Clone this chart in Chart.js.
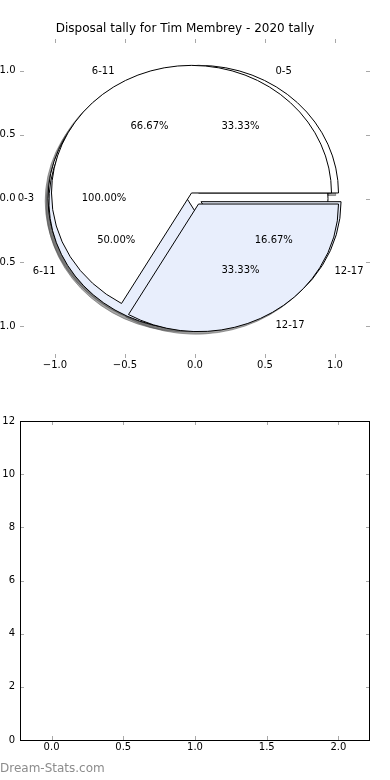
<!DOCTYPE html>
<html>
<head>
<meta charset="utf-8">
<script src="https://cdn.jsdelivr.net/npm/chart.js@4.4.1/dist/chart.umd.min.js"></script>
<style>
  body { margin: 0; background: #fff; }
  #wrap { position: relative; width: 390px; height: 780px; overflow: hidden; }
  canvas { position: absolute; left: 0; }
  #pieChart { top: 0; }
  #emptyChart { top: 390px; }
  #mark { position: absolute; left: 0; top: 761px; font: 12px "DejaVu Sans", sans-serif; color: #8c8c8c; }
</style>
</head>
<body>
<div id="wrap">
  <canvas id="pieChart" width="390" height="390"></canvas>
  <canvas id="emptyChart" width="390" height="390"></canvas>
  <div id="mark">Dream-Stats.com</div>
</div>
<script>
// three pies drawn on the same axes, in drawing order
const pieLabelsC = ["0-3"];
const pieValuesC = [1];
const pieLabelsA = ["0-5", "6-11", "12-17"];
const pieValuesA = [2, 3, 1];
const pieLabelsB = ["6-11", "12-17"];
const pieValuesB = [2, 1];

const pieTicks = [-1, -0.5, 0, 0.5, 1];
const barXTicks = [0, 0.5, 1, 1.5, 2];
const barYTicks = [0, 2, 4, 6, 8, 10, 12];

const FONT = '"DejaVu Sans", sans-serif';
const BLUE = "#e8eefc";
const pieColors = ["#ffffff", BLUE, BLUE];
const EXPLODE = 0.05;
const D = Math.PI / 180;

const pies = [
    { labels: pieLabelsC, values: pieValuesC },
    { labels: pieLabelsA, values: pieValuesA },
    { labels: pieLabelsB, values: pieValuesB }
];

function wedges(pie) {
    const total = pie.values.reduce((a, b) => a + b, 0);
    let start = 0;
    return pie.values.map((v, i) => {
        const t1 = start, t2 = start + 360 * v / total;
        start = t2;
        const mid = (t1 + t2) / 2 * D;
        return {
            t1, t2, mid,
            cx: EXPLODE * Math.cos(mid), cy: EXPLODE * Math.sin(mid),
            label: pie.labels[i], pct: 100 * v / total, color: pieColors[i]
        };
    });
}

function wedgePath(ctx, px, py, rx, ry, w) {
    ctx.beginPath();
    const full = w.t2 - w.t1 >= 360;
    if (!full) ctx.moveTo(px, py);
    ctx.ellipse(px, py, rx, ry, 0, -w.t1 * D, -w.t2 * D, true);
    ctx.closePath();
}

function fmt(v) {
    return v.toFixed(1).replace("-", "\u2212");
}

const piePlugin = {
    id: "pies",
    afterDatasetsDraw(chart) {
        const { ctx, scales: { x, y } } = chart;
        const rx = x.getPixelForValue(1) - x.getPixelForValue(0);
        const ry = y.getPixelForValue(0) - y.getPixelForValue(1);
        const all = pies.map(wedges);
        ctx.save();
        // shadows sit below every wedge
        all.forEach(ws => ws.forEach(w => {
            const px = x.getPixelForValue(w.cx - 0.02), py = y.getPixelForValue(w.cy - 0.02);
            wedgePath(ctx, px, py, rx, ry, w);
            ctx.fillStyle = "rgba(77,77,77,0.5)";
            ctx.strokeStyle = "rgba(77,77,77,0.5)";
            ctx.lineWidth = 1;
            ctx.fill();
            ctx.stroke();
        }));
        all.forEach(ws => ws.forEach(w => {
            const px = x.getPixelForValue(w.cx), py = y.getPixelForValue(w.cy);
            wedgePath(ctx, px, py, rx, ry, w);
            ctx.fillStyle = w.color;
            ctx.strokeStyle = "#000";
            ctx.lineWidth = 1;
            ctx.fill();
            ctx.stroke();
        }));
        ctx.font = "10px " + FONT;
        ctx.fillStyle = "#000";
        ctx.textBaseline = "middle";
        all.forEach(ws => ws.forEach(w => {
            const lx = w.cx + 1.1 * Math.cos(w.mid), ly = w.cy + 1.1 * Math.sin(w.mid);
            ctx.textAlign = lx > 0 ? "left" : "right";
            ctx.fillText(w.label, x.getPixelForValue(lx), y.getPixelForValue(ly));
            const tx = w.cx + 0.6 * Math.cos(w.mid), ty = w.cy + 0.6 * Math.sin(w.mid);
            ctx.textAlign = "center";
            ctx.fillText(w.pct.toFixed(2) + "%", x.getPixelForValue(tx), y.getPixelForValue(ty));
        }));
        ctx.restore();
    }
};

// inward tick marks on all four sides, plus optional frame
function tickPlugin(frame) {
    return {
        id: "tickmarks",
        afterDraw(chart) {
            const { ctx, chartArea: a, scales: { x, y } } = chart;
            ctx.save();
            ctx.strokeStyle = "#a8a8a8";
            ctx.lineWidth = 1;
            ctx.beginPath();
            x.ticks.forEach(t => {
                const px = Math.round(x.getPixelForValue(t.value)) + 0.5;
                ctx.moveTo(px, a.bottom); ctx.lineTo(px, a.bottom - 4);
                ctx.moveTo(px, a.top); ctx.lineTo(px, a.top + 4);
            });
            y.ticks.forEach(t => {
                const py = Math.round(y.getPixelForValue(t.value)) + 0.5;
                ctx.moveTo(a.left, py); ctx.lineTo(a.left + 4, py);
                ctx.moveTo(a.right, py); ctx.lineTo(a.right - 4, py);
            });
            ctx.stroke();
            if (frame) {
                ctx.strokeStyle = "#000";
                ctx.strokeRect(Math.round(a.left) + 0.5, Math.round(a.top) + 0.5,
                    Math.round(a.right - a.left) - 1, Math.round(a.bottom - a.top));
            }
            ctx.restore();
        }
    };
}

function axis(min, max, tickValues, label, size) {
    return {
        type: "linear", min, max, offset: false,
        grid: { display: false, drawTicks: false },
        border: { display: false },
        ticks: { font: { family: FONT, size: 10 }, color: "#000", padding: label, callback: v => v },
        afterBuildTicks: s => { s.ticks = tickValues.map(v => ({ value: v })); },
        afterFit: s => { if (s.isHorizontal()) s.height = size; else s.width = size; }
    };
}

const pieX = axis(-1.25, 1.25, pieTicks, 1, 32);
pieX.ticks.callback = v => fmt(v);
const pieY = axis(-1.25, 1.25, pieTicks, 4.5, 20);
pieY.ticks.callback = v => fmt(v);

new Chart(document.getElementById("pieChart"), {
    type: "scatter",
    data: { datasets: [] },
    options: {
        responsive: false,
        animation: false,
        layout: { padding: { left: 0, right: 20, top: 0, bottom: 0 } },
        plugins: {
            legend: { display: false },
            tooltip: { enabled: false },
            title: {
                display: true,
                text: "Disposal tally for Tim Membrey - 2020 tally",
                color: "#000",
                font: { family: FONT, size: 12, weight: "normal" },
                padding: { top: 22, bottom: 2.6 }
            }
        },
        scales: { x: pieX, y: pieY }
    },
    plugins: [tickPlugin(false), piePlugin]
});

const barX = axis(-0.22, 2.22, barXTicks, 1, 40);
barX.ticks.callback = v => v.toFixed(1);
const barY = axis(0, 12, barYTicks, 5, 20);
barY.ticks.callback = v => String(v);

new Chart(document.getElementById("emptyChart"), {
    type: "scatter",
    data: { datasets: [] },
    options: {
        responsive: false,
        animation: false,
        layout: { padding: { left: 0, right: 20, top: 31, bottom: 0 } },
        plugins: { legend: { display: false }, tooltip: { enabled: false } },
        scales: { x: barX, y: barY }
    },
    plugins: [tickPlugin(true)]
});
</script>
</body>
</html>
